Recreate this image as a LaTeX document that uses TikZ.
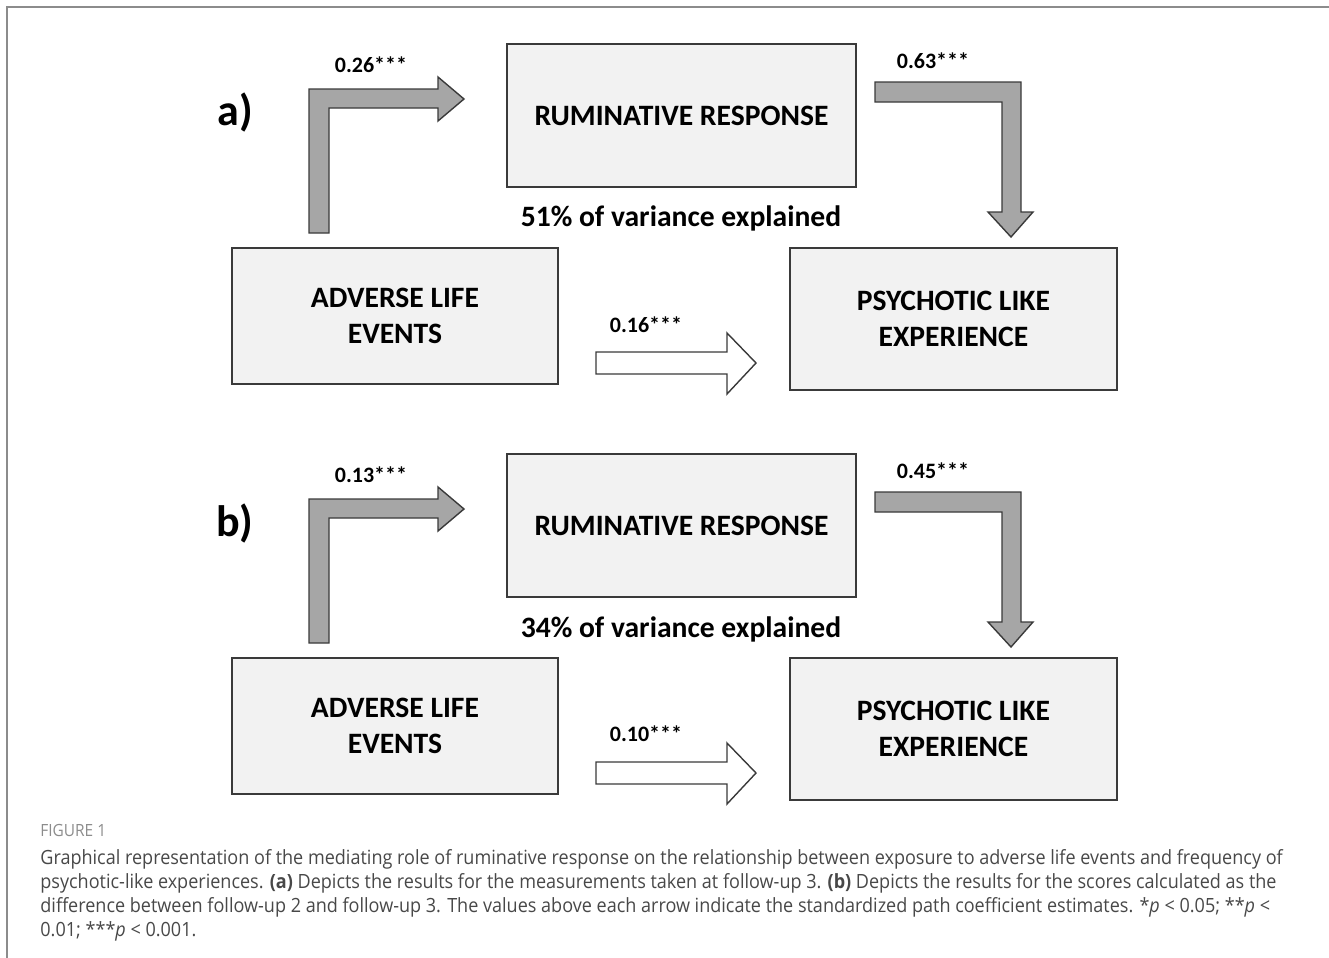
\documentclass[tikz,border=0pt]{standalone}
\usepackage{fontspec}
\setmainfont{Carlito}
\newfontfamily\capfont[FakeStretch=0.92]{Open Sans}
\usetikzlibrary{positioning}
\definecolor{boxfill}{HTML}{F2F2F2}
\definecolor{boxline}{HTML}{3A3A3A}
\definecolor{pathgrey}{HTML}{A6A6A6}
\definecolor{frameline}{HTML}{8C8C8C}
\definecolor{captext}{HTML}{484848}

\begin{document}
\begin{tikzpicture}[
  x=0.5pt, y=-0.5pt,
  box/.style={draw=boxline, fill=boxfill, line width=0.7pt, inner sep=0pt, align=center, font=\bfseries\fontsize{14.8}{18}\selectfont},
  rumbox/.style={box, minimum width=174.5pt, minimum height=71.5pt},
  advbox/.style={box, minimum width=163pt, minimum height=68pt},
  plebox/.style={box, minimum width=163.5pt, minimum height=71pt},
  coef/.style={font=\bfseries\fontsize{11}{13}\selectfont},
  varlabel/.style={font=\bfseries\fontsize{14.8}{18}\selectfont},
  panel/.style={font=\bfseries\fontsize{22}{24}\selectfont},
  bentarr/.style={draw=boxline, fill=pathgrey, line width=0.7pt, line join=miter},
  flatarr/.style={draw=boxline, fill=white, line width=0.7pt, line join=miter}
]
\useasboundingbox (0,0) rectangle (1329,958);
\draw[frameline, line width=1pt] (7,958) -- (7,7) -- (1329,7);

% panel a
\node[rumbox] (rumA) at (681.5,115.5) {RUMINATIVE RESPONSE};
\node[advbox] (advA) at (395,316) {ADVERSE LIFE\\EVENTS};
\node[plebox] (pleA) at (953.5,319) {PSYCHOTIC LIKE\\EXPERIENCE};
\node[panel] (labA) at (235,113) {a)};
\node[varlabel] (varA) at (681,218) {51\% of variance explained};
\draw[bentarr] (309,233) -- (309,89) -- (438,89) -- (438,77) -- (464,99) -- (438,121) -- (438,108) -- (329,108) -- (329,233) -- cycle;
\draw[bentarr] (875,82) -- (1021,82) -- (1021,212) -- (1033,212) -- (1011,237) -- (988,212) -- (1002,212) -- (1002,102) -- (875,102) -- cycle;
\draw[flatarr] (596,352) -- (727,352) -- (727,333) -- (756,363) -- (727,394) -- (727,374) -- (596,374) -- cycle;
\node[coef] (cA1) at (371,65) {0.26***};
\node[coef] (cA2) at (933,61) {0.63***};
\node[coef] (cA3) at (646,325) {0.16***};

% panel b
\begin{scope}[yshift=-205pt]
\node[rumbox] (rumB) at (681.5,115.5) {RUMINATIVE RESPONSE};
\node[advbox] (advB) at (395,316) {ADVERSE LIFE\\EVENTS};
\node[plebox] (pleB) at (953.5,319) {PSYCHOTIC LIKE\\EXPERIENCE};
\node[panel] (labB) at (235,113) {b)};
\node[varlabel] (varB) at (681,219) {34\% of variance explained};
\draw[bentarr] (309,233) -- (309,89) -- (438,89) -- (438,77) -- (464,99) -- (438,121) -- (438,108) -- (329,108) -- (329,233) -- cycle;
\draw[bentarr] (875,82) -- (1021,82) -- (1021,212) -- (1033,212) -- (1011,237) -- (988,212) -- (1002,212) -- (1002,102) -- (875,102) -- cycle;
\draw[flatarr] (596,352) -- (727,352) -- (727,333) -- (756,363) -- (727,394) -- (727,374) -- (596,374) -- cycle;
\node[coef] (cB1) at (371,65) {0.13***};
\node[coef] (cB2) at (933,61) {0.45***};
\node[coef] (cB3) at (646,324) {0.10***};
\end{scope}

% caption
\node[anchor=west, inner sep=0pt, text=frameline, font=\capfont\fontsize{8.4}{10}\selectfont] (fig) at (40,830) {FIGURE 1};
\node[anchor=north west, inner sep=0pt, align=left, text=captext, font=\capfont\fontsize{9.8}{12}\selectfont] (cap) at (40,849) {Graphical representation of the mediating role of ruminative response on the relationship between exposure to adverse life events and frequency of\\
psychotic-like experiences. \textbf{(a)} Depicts the results for the measurements taken at follow-up 3. \textbf{(b)} Depicts the results for the scores calculated as the\\
difference between follow-up 2 and follow-up 3. The values above each arrow indicate the standardized path coefficient estimates. *\textit{p} < 0.05; **\textit{p} <\\
0.01; ***\textit{p} < 0.001.};
\end{tikzpicture}
\end{document}
